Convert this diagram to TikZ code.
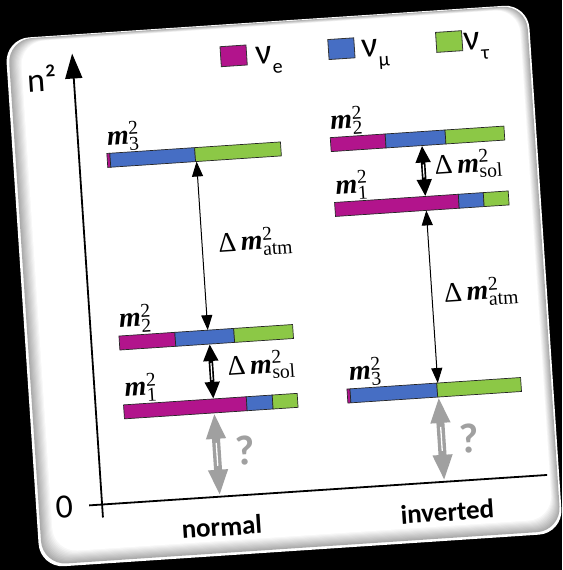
\documentclass[tikz,border=0pt]{standalone}
\usepackage{fontspec}
\setmainfont{Liberation Serif}
\newfontfamily\calib{Carlito}
\usetikzlibrary{arrows.meta}
\definecolor{cMag}{RGB}{178,20,140}
\definecolor{cBlu}{RGB}{70,110,196}
\definecolor{cGrn}{RGB}{140,200,70}
\definecolor{cGry}{RGB}{160,160,160}
\newcommand\levelbar[5]{%
  \filldraw[barseg, fill=cMag] (#1,#5-7) rectangle (#2,#5+7);
  \filldraw[barseg, fill=cBlu] (#2,#5-7) rectangle (#3,#5+7);
  \filldraw[barseg, fill=cGrn] (#3,#5-7) rectangle (#4,#5+7);}
\tikzset{
  barseg/.style={draw=black!85, line width=0.7pt},
  axisline/.style={line width=1.8pt, -{Triangle[length=25pt,width=17pt]}},
  xaxisline/.style={line width=1.8pt},
  atmarrow/.style={line width=1pt, {Triangle[length=15pt,width=11pt]}-{Triangle[length=15pt,width=11pt]}},
  solarrow/.style={line width=4.5pt, {Triangle[length=17pt,width=14pt]}-{Triangle[length=17pt,width=14pt]}},
  qarrow/.style={draw=cGry, line width=8pt, {Triangle[length=26pt,width=18pt]}-{Triangle[length=26pt,width=18pt]}},
  shaftgap/.style={white, line width=1.2pt},
  mlab/.style={font=\fontsize{28}{32}\selectfont, inner sep=0pt, anchor=base west},
  dlab/.style={font=\fontsize{28}{32}\selectfont, inner sep=0pt, anchor=west},
  legbox/.style={draw=black!80, line width=0.8pt, minimum width=26pt, minimum height=20pt, inner sep=0pt},
  legtxt/.style={font=\calib\fontsize{36}{40}\selectfont, inner sep=0pt, anchor=base west},
  axlab/.style={font=\calib\fontsize{34}{38}\selectfont, inner sep=0pt},
  catlab/.style={font=\calib\bfseries\fontsize{27}{30}\selectfont, inner sep=0pt},
  qmark/.style={font=\calib\bfseries\fontsize{42}{46}\selectfont, text=cGry, inner sep=0pt},
}
\begin{document}
\begin{tikzpicture}[x=1pt,y=-1pt]
\useasboundingbox (0,0) rectangle (562,570);
\fill[black] (0,0) rectangle (562,570);
\begin{scope}[rotate around={3.8:(284,286)}, transform shape]
  % card
  \fill[white, rounded corners=24pt] (22,21) rectangle (546,551);
  \foreach \i in {1,...,12} {
    \pgfmathsetmacro\shade{max(0,36-3*\i)}
    \fill[black!\shade, rounded corners=24pt]
      (22+1.5+1.1*\i, 21+0.6+0.3*\i) rectangle (546-1-0.7*\i, 551-1.5-1.1*\i);
  }
  % axes
  \coordinate (Y0) at (88,505);
  \coordinate (Ytop) at (88,40);
  \coordinate (X0) at (75,492);
  \coordinate (X1) at (534,492);
  \draw[axisline] (Y0) -- (Ytop);
  \draw[xaxisline] (X0) -- (X1);
  \node[axlab] (ylab) at (56,63) {n²};
  \node[axlab] (zero) at (50,492) {0};
  \node[catlab] (normal) at (206,522) {normal};
  \node[catlab] (inverted) at (432,522) {inverted};
  % legend
  \node[legbox, fill=cMag] (lbe) at (249,53) {};
  \node[legbox, fill=cBlu] (lbm) at (357,53) {};
  \node[legbox, fill=cGrn] (lbt) at (465,53) {};
  \node[legtxt] (lte) at (271,63) {ν\raisebox{-10pt}{\fontsize{20}{22}\selectfont e}};
  \node[legtxt] (ltm) at (377,63) {ν\raisebox{-10pt}{\fontsize{20}{22}\selectfont μ}};
  \node[legtxt] (ltt) at (480,63) {ν\raisebox{-10pt}{\fontsize{20}{22}\selectfont τ}};
  % normal hierarchy bars
  \levelbar{116}{119}{204}{290}{149}
  \levelbar{116}{172}{231}{290}{332}
  \levelbar{116}{239}{265}{290}{401}
  % inverted hierarchy bars
  \levelbar{340}{395}{455}{514}{148}
  \levelbar{340}{464}{489}{514}{213}
  \levelbar{340}{343}{430}{514}{400}
  % mass labels
  \node[mlab] (ln3) at (117,134) {\textbf{\textit{m}}${}^{\mathrm{2}}_{\mathrm{3}}$};
  \node[mlab] (ln2) at (117,317) {\textbf{\textit{m}}${}^{\mathrm{2}}_{\mathrm{2}}$};
  \node[mlab] (ln1) at (118,386) {\textbf{\textit{m}}${}^{\mathrm{2}}_{\mathrm{1}}$};
  \node[mlab] (li2) at (341,133) {\textbf{\textit{m}}${}^{\mathrm{2}}_{\mathrm{2}}$};
  \node[mlab] (li1) at (342,198) {\textbf{\textit{m}}${}^{\mathrm{2}}_{\mathrm{1}}$};
  \node[mlab] (li3) at (343,385) {\textbf{\textit{m}}${}^{\mathrm{2}}_{\mathrm{3}}$};
  % arrow end points
  \coordinate (N3b) at (205,156);
  \coordinate (N2t) at (205,325);
  \coordinate (N2b) at (206,339);
  \coordinate (N1t) at (206,394);
  \coordinate (N1b) at (206,408);
  \coordinate (Nax) at (206,491);
  \coordinate (I2b) at (431,155);
  \coordinate (I1t) at (431,206);
  \coordinate (I1b) at (431,220);
  \coordinate (I3t) at (431,393);
  \coordinate (I3b) at (431,407);
  \coordinate (Iax) at (431,491);
  % normal arrows
  \draw[atmarrow] (N3b) -- (N2t);
  \draw[solarrow] (N2b) -- (N1t);
  \draw[shaftgap, shorten <=19pt, shorten >=19pt] (N2b) -- (N1t);
  \draw[qarrow] (N1b) -- (Nax);
  \draw[shaftgap, line width=1.3pt, shorten <=30pt, shorten >=30pt] (N1b) -- (Nax);
  % inverted arrows
  \draw[solarrow] (I2b) -- (I1t);
  \draw[shaftgap, shorten <=19pt, shorten >=19pt] (I2b) -- (I1t);
  \draw[atmarrow] (I1b) -- (I3t);
  \draw[qarrow] (I3b) -- (Iax);
  \draw[shaftgap, line width=1.3pt, shorten <=30pt, shorten >=30pt] (I3b) -- (Iax);
  % difference labels
  \node[dlab] (dn1) at (221,240) {Δ\,\textbf{\textit{m}}${}^{\mathrm{2}}_{\mathrm{atm}}$};
  \node[dlab] (dn2) at (222,364) {Δ\,\textbf{\textit{m}}${}^{\mathrm{2}}_{\mathrm{sol}}$};
  \node[dlab] (di1) at (442,177) {Δ\,\textbf{\textit{m}}${}^{\mathrm{2}}_{\mathrm{sol}}$};
  \node[dlab] (di2) at (443,305) {Δ\,\textbf{\textit{m}}${}^{\mathrm{2}}_{\mathrm{atm}}$};
  \node[qmark] (qn) at (234,448) {?};
  \node[qmark] (qi) at (459,450) {?};
\end{scope}
\end{tikzpicture}
\end{document}
